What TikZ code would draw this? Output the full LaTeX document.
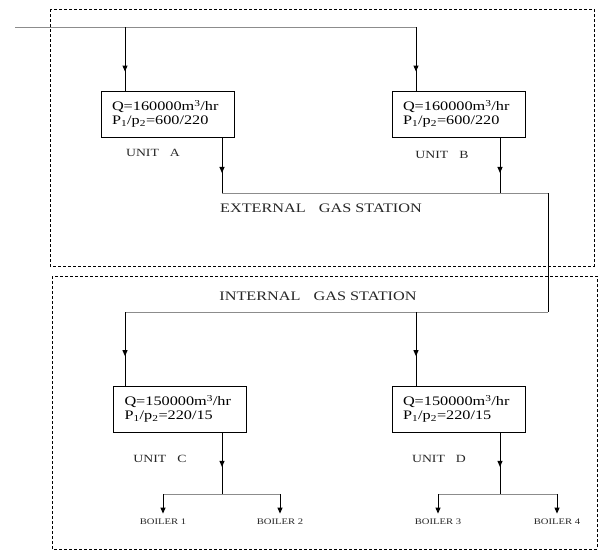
\documentclass[tikz,border=0pt]{standalone}
\usepackage{fontspec}
\setmainfont{Liberation Serif}[FakeStretch=1.25]
\usetikzlibrary{arrows.meta,decorations.markings,positioning}

\begin{document}
\begin{tikzpicture}[x=1pt,y=-1pt,>={Triangle[width=5pt,length=6pt]},
  unit/.style={draw,line width=.8pt,minimum width=133pt,minimum height=46pt,
    text width=111pt,inner xsep=11pt,align=left,
    font=\fontsize{13}{14}\selectfont},
  pipe/.style={line width=.6pt,black!45},
  riser/.style={line width=1pt},
  flow/.style={line width=1pt,postaction={decorate},decoration={markings,
    mark=at position #1 with {\arrow{>}}}},
  flow/.default=.64,
  drop/.style={->,line width=1pt,shorten >=2pt},
  zone/.style={densely dashed,line width=.9pt},
  lbl/.style={font=\fontsize{11}{12}\selectfont,text=black!85},
  ttl/.style={font=\fontsize{13}{14}\selectfont,text=black!85},
  blr/.style={font=\fontsize{8.5}{9}\selectfont,text=black!85}]
\useasboundingbox (0,0) rectangle (598,552);
\draw[zone] (50,9) rectangle (594,266);
\draw[zone] (52,276) rectangle (597,549);
\node[unit] (uA) at (167.5,114)
 {Q=160000m\textsuperscript{3}/hr\\P\textsubscript{1}/p\textsubscript{2}=600/220};
\node[unit] (uB) at (458.5,114)
 {Q=160000m\textsuperscript{3}/hr\\P\textsubscript{1}/p\textsubscript{2}=600/220};
\node[unit] (uC) at (180,409)
 {Q=150000m\textsuperscript{3}/hr\\P\textsubscript{1}/p\textsubscript{2}=220/15};
\node[unit] (uD) at (458.5,409)
 {Q=150000m\textsuperscript{3}/hr\\P\textsubscript{1}/p\textsubscript{2}=220/15};
\node[lbl] (lA) at (153,153) {UNIT\quad A};
\node[lbl] (lB) at (442,155) {UNIT\quad B};
\node[lbl] (lC) at (160,459) {UNIT\quad C};
\node[lbl] (lD) at (439,459) {UNIT\quad D};
\node[ttl] (ext) at (321,208) {EXTERNAL\quad GAS STATION};
\node[ttl] (int) at (318,296) {INTERNAL\quad GAS STATION};
\node[blr] (b1) at (163,522) {BOILER 1};
\node[blr] (b2) at (280,522) {BOILER 2};
\node[blr] (b3) at (438,522) {BOILER 3};
\node[blr] (b4) at (557,522) {BOILER 4};
\coordinate (in) at (15,27);
\coordinate (tA) at (125,27);
\coordinate (tB) at (416,27);
\coordinate (oA) at (222,193);
\coordinate (oB) at (500,193);
\coordinate (jn) at (548,193);
\coordinate (jI) at (548,312);
\coordinate (iC) at (125,312);
\coordinate (iD) at (416,312);
\coordinate (oC) at (222,494);
\coordinate (oD) at (500,494);
\coordinate (c1) at (b1|-oC);
\coordinate (c2) at (b2|-oC);
\coordinate (d1) at (b3|-oD);
\coordinate (d2) at (b4|-oD);
\draw[pipe] (in)--(tB);
\draw[flow=.7] (tA)--(tA|-uA.north);
\draw[flow=.7] (tB)--(tB|-uB.north);
\draw[flow] (oA|-uA.south)--(oA);
\draw[flow] (oB|-uB.south)--(oB);
\draw[pipe] (oA)--(jn);
\draw[riser] (jn)--(jI);
\draw[pipe] (iC)--(jI);
\draw[flow=.6] (iC)--(iC|-uC.north);
\draw[flow=.6] (iD)--(iD|-uD.north);
\draw[flow=.56] (oC|-uC.south)--(oC);
\draw[flow=.56] (oD|-uD.south)--(oD);
\draw[pipe] (c1)--(c2);
\draw[pipe] (d1)--(d2);
\draw[drop] (c1)--(b1);
\draw[drop] (c2)--(b2);
\draw[drop] (d1)--(b3);
\draw[drop] (d2)--(b4);
\end{tikzpicture}
\end{document}
